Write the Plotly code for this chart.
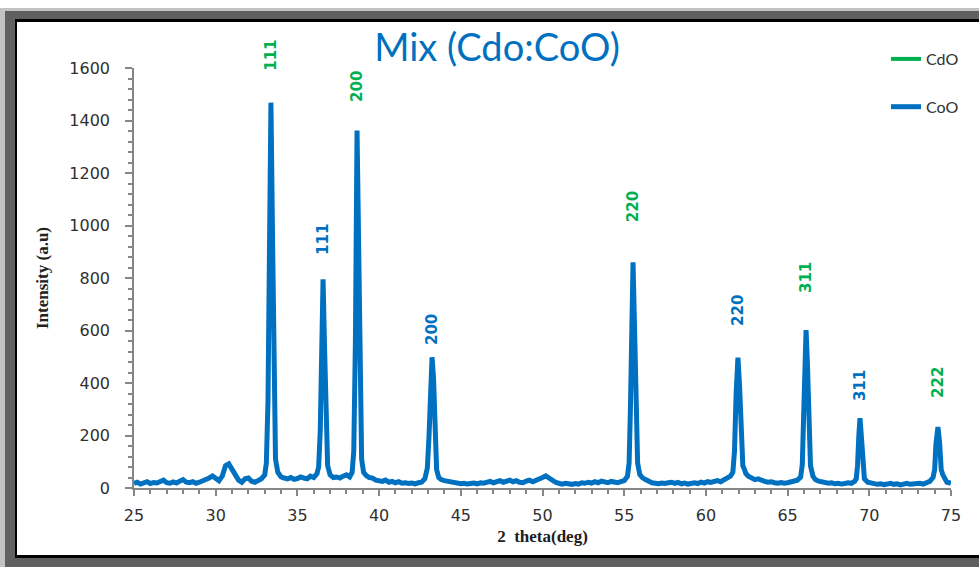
import plotly.graph_objects as go

# ---------------- data ----------------
two_theta = [
    25.0, 25.2, 25.4, 25.6, 25.8, 26.0, 26.2, 26.4, 26.6, 26.8, 27.0, 27.2, 27.4, 27.6, 27.8,
    28.0, 28.2, 28.4, 28.6, 28.8, 29.0, 29.2, 29.4, 29.6, 29.8, 30.0, 30.2, 30.4, 30.6, 30.8,
    31.0, 31.2, 31.4, 31.6, 31.8, 32.0, 32.2, 32.4, 32.6, 32.8,
    33.0, 33.1, 33.2, 33.28, 33.38, 33.48, 33.56, 33.66, 33.8, 34.0,
    34.2, 34.4, 34.6, 34.8, 35.0, 35.2, 35.4, 35.6, 35.8, 36.0, 36.2,
    36.3, 36.4, 36.48, 36.57, 36.66, 36.75, 36.85, 37.0,
    37.2, 37.4, 37.6, 37.8, 38.0, 38.2, 38.35,
    38.45, 38.55, 38.65, 38.74, 38.83, 38.93, 39.05,
    39.2, 39.4, 39.6, 39.8, 40.0, 40.2, 40.4, 40.6, 40.8, 41.0, 41.2, 41.4, 41.6, 41.8, 42.0,
    42.2, 42.4, 42.6, 42.8, 42.95,
    43.05, 43.14, 43.24, 43.33, 43.42, 43.52, 43.65,
    43.8, 44.0, 44.2, 44.4, 44.6, 44.8, 45.0, 45.2, 45.4, 45.6, 45.8, 46.0, 46.2, 46.4, 46.6,
    46.8, 47.0, 47.2, 47.4, 47.6, 47.8, 48.0, 48.2, 48.4, 48.6, 48.8, 49.0, 49.2, 49.4, 49.6,
    49.8, 50.0, 50.2, 50.4, 50.6, 50.8, 51.0, 51.2, 51.4, 51.6, 51.8, 52.0, 52.2, 52.4, 52.6,
    52.8, 53.0, 53.2, 53.4, 53.6, 53.8, 54.0, 54.2, 54.4, 54.6, 54.8, 55.0, 55.2,
    55.3, 55.38, 55.46, 55.54, 55.63, 55.72, 55.82, 55.95,
    56.1, 56.3, 56.5, 56.7, 56.9, 57.1, 57.3, 57.5, 57.7, 57.9, 58.1, 58.3, 58.5, 58.7, 58.9,
    59.1, 59.3, 59.5, 59.7, 59.9, 60.1, 60.3, 60.5, 60.7, 60.9, 61.1, 61.3, 61.5, 61.65,
    61.75, 61.85, 61.96, 62.06, 62.16, 62.26, 62.35, 62.45, 62.6,
    62.8, 63.0, 63.2, 63.4, 63.6, 63.8, 64.0, 64.2, 64.4, 64.6, 64.8, 65.0, 65.2, 65.4, 65.6, 65.8,
    65.9, 65.98, 66.06, 66.13, 66.21, 66.3, 66.4, 66.55,
    66.7, 66.9, 67.1, 67.3, 67.5, 67.7, 67.9, 68.1, 68.3, 68.5, 68.7, 68.9, 69.1, 69.2,
    69.28, 69.36, 69.43, 69.51, 69.6, 69.7,
    69.9, 70.1, 70.3, 70.5, 70.7, 70.9, 71.1, 71.3, 71.5, 71.7, 71.9, 72.1, 72.3, 72.5, 72.7,
    72.9, 73.1, 73.3, 73.5, 73.7, 73.9, 74.0,
    74.08, 74.2, 74.3, 74.4, 74.5, 74.6, 74.75, 74.9, 75.0,
]
intensity = [
    18, 22, 15, 20, 24, 17, 21, 19, 25, 30, 20, 18, 23, 19, 26,
    32, 22, 20, 24, 18, 22, 26, 30, 38, 46, 34, 28, 45, 85, 92,
    70, 48, 30, 22, 35, 38, 26, 22, 28, 35,
    50, 95, 330, 900, 1468, 950, 380, 110, 60, 42,
    38, 35, 40, 33, 36, 42, 38, 35, 45, 40, 55,
    80, 220, 520, 795, 540, 220, 85, 50,
    40, 42, 38, 45, 50, 42, 60,
    140, 560, 1362, 900, 360, 110, 60,
    48, 40, 38, 30, 28, 25, 30, 22, 25, 20, 24, 18, 20, 17, 19,
    16, 20, 22, 35, 75,
    190, 400, 498, 420, 190, 70, 40,
    32, 28, 25, 22, 20, 18, 16, 18, 15, 17, 19, 16, 20, 18, 22,
    25, 20, 24, 28, 22, 26, 30, 24, 28, 22, 20, 26, 30, 24, 28,
    35, 40, 46, 38, 28, 22, 18, 15, 18, 16, 14, 17, 15, 20, 18,
    22, 19, 24, 20, 26, 22, 20, 25, 22, 20, 24, 28, 45,
    95, 300, 640, 860, 620, 280, 95, 52,
    40, 32, 25, 20, 18, 16, 19, 17, 20, 22, 18, 21, 16, 19, 15,
    18, 20, 17, 22, 19, 24, 21, 25, 28, 24, 30, 38, 45, 60,
    140, 360, 497, 390, 170, 85, 72, 55, 45,
    38, 32, 35, 28, 25, 22, 24, 20, 18, 21, 18, 20, 22, 25, 30, 42,
    90, 270, 500, 602, 480, 220, 85, 45,
    32, 26, 22, 20, 18, 20, 16, 18, 15, 17, 20, 18, 25, 35,
    85, 200, 266, 200, 80, 35,
    22, 18, 16, 14, 16, 13, 15, 18, 14, 16, 12, 15, 18, 14, 16,
    20, 18, 15, 20, 25, 40, 70,
    170, 232, 175, 70, 50, 35, 22, 20, 18,
]

# peak (hkl) labels
label_text = ["111", "111", "200", "200", "220", "220", "311", "311", "222"]
label_phase = ["CdO", "CoO", "CdO", "CoO", "CdO", "CoO", "CdO", "CoO", "CdO"]
label_x = [33.38, 36.57, 38.65, 43.24, 55.54, 61.96, 66.13, 69.43, 74.2]
label_y = [1650, 945, 1528, 602, 1070, 678, 800, 392, 404]

x_ticks = [25, 30, 35, 40, 45, 50, 55, 60, 65, 70, 75]
y_ticks = [0, 200, 400, 600, 800, 1000, 1200, 1400, 1600]
Y_MAX = 1600

phase_colors = {"CdO": "#00B050", "CoO": "#0070C0"}

# ---------------- figure ----------------
W, H = 979, 567
ML, MR, MT, MB = 134, 28, 68, 79
PW, PH = W - ML - MR, H - MT - MB


def px_x(p):
    return (p - ML) / PW


def px_y(p):
    return (H - MB - p) / PH


fig = go.Figure()

fig.add_trace(go.Scatter(
    x=[None], y=[None], mode="lines", name="CdO",
    line=dict(color=phase_colors["CdO"], width=4),
    legendgroup="a",
))
fig.add_trace(go.Scatter(
    x=two_theta, y=intensity, mode="lines", name="CoO",
    line=dict(color=phase_colors["CoO"], width=5),
    legendgroup="b",
))

# frame
frame = [
    ("#C3C3C3", 0, 8, 990, 580),
    ("#606060", 5, 11, 990, 580),
    ("#000000", 15, 19, 990, 558),
    ("#FFFFFF", 17, 22, 990, 555),
]
for col, x0, y0, x1, y1 in frame:
    fig.add_shape(type="rect", xref="paper", yref="paper",
                  x0=px_x(x0), x1=px_x(x1), y0=px_y(y1), y1=px_y(y0),
                  fillcolor=col, line=dict(width=0), layer="below")

for t, ph, x, y in zip(label_text, label_phase, label_x, label_y):
    fig.add_annotation(x=x, y=y / Y_MAX, xref="x", yref="paper", text="<b>%s</b>" % t,
                       showarrow=False, textangle=-90,
                       xanchor="center", yanchor="middle",
                       font=dict(family="DejaVu Sans", size=15, color=phase_colors[ph]))

fig.update_layout(
    width=W, height=H,
    margin=dict(l=ML, r=MR, t=MT, b=MB, pad=0),
    paper_bgcolor="white", plot_bgcolor="rgba(0,0,0,0)",
    title=dict(text="Mix (Cdo:CoO)", x=497 / W, xanchor="center",
               y=1 - 48 / H, yanchor="middle", yref="container",
               font=dict(family="Lato", size=38, color="#0070C0")),
    showlegend=True,
    legend=dict(x=px_x(886), y=px_y(42), xanchor="left", yanchor="top",
                bgcolor="rgba(0,0,0,0)", traceorder="grouped", tracegroupgap=24,
                font=dict(family="Lato", size=16, color="#303030"),
                itemwidth=30),
    xaxis=dict(range=[25, 75], tickvals=x_ticks, showgrid=False, zeroline=False,
               showline=True, linecolor="#868686", linewidth=1.5,
               ticks="outside", ticklen=6, tickcolor="#868686", tickwidth=1.5,
               minor=dict(dtick=1, ticks="outside", ticklen=4, tickcolor="#868686"),
               tickfont=dict(family="DejaVu Sans", size=16, color="#303030"),
               ticklabelstandoff=6,
               title=dict(text="<b>2  theta(deg)</b>", standoff=6,
                          font=dict(family="Liberation Serif", size=17, color="#202020"))),
    yaxis=dict(range=[0, Y_MAX], tickvals=y_ticks, showgrid=False, zeroline=False,
               showline=True, linecolor="#868686", linewidth=1.5,
               ticks="outside", ticklen=7, tickcolor="#868686", tickwidth=1.5,
               minor=dict(dtick=40, ticks="outside", ticklen=4, tickcolor="#868686"),
               tickfont=dict(family="DejaVu Sans", size=16, color="#303030"),
               ticklabelstandoff=12,
               title=dict(text="<b>Intensity (a.u)</b>", standoff=16,
                          font=dict(family="Liberation Serif", size=17, color="#202020"))),
)

fig.write_html("out.html")
